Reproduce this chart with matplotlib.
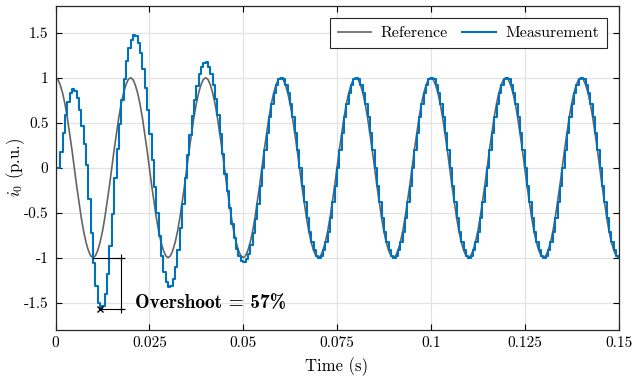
import numpy as np
import matplotlib
matplotlib.use('Agg')
import matplotlib.pyplot as plt
from matplotlib.ticker import FixedLocator, FixedFormatter

plt.rcParams['font.family'] = 'cmr10'
plt.rcParams['mathtext.fontset'] = 'cm'
plt.rcParams['axes.formatter.use_mathtext'] = True

# sampling rate of the current controller (Hz)
fs = 1600

# reference current, one row per half period of 50 Hz (p.u.)
i_ref = np.array([
    1.0, 0.98, 0.92, 0.83, 0.71, 0.56, 0.38, 0.2, 0.0, -0.2, -0.38, -0.56, -0.71, -0.83, -0.92, -0.98,
    -1.0, -0.98, -0.92, -0.83, -0.71, -0.56, -0.38, -0.2, 0.0, 0.2, 0.38, 0.56, 0.71, 0.83, 0.92, 0.98,
    1.0, 0.98, 0.92, 0.83, 0.71, 0.56, 0.38, 0.2, 0.0, -0.2, -0.38, -0.56, -0.71, -0.83, -0.92, -0.98,
    -1.0, -0.98, -0.92, -0.83, -0.71, -0.56, -0.38, -0.2, 0.0, 0.2, 0.38, 0.56, 0.71, 0.83, 0.92, 0.98,
    1.0, 0.98, 0.92, 0.83, 0.71, 0.56, 0.38, 0.2, 0.0, -0.2, -0.38, -0.56, -0.71, -0.83, -0.92, -0.98,
    -1.0, -0.98, -0.92, -0.83, -0.71, -0.56, -0.38, -0.2, 0.0, 0.2, 0.38, 0.56, 0.71, 0.83, 0.92, 0.98,
    1.0, 0.98, 0.92, 0.83, 0.71, 0.56, 0.38, 0.2, 0.0, -0.2, -0.38, -0.56, -0.71, -0.83, -0.92, -0.98,
    -1.0, -0.98, -0.92, -0.83, -0.71, -0.56, -0.38, -0.2, 0.0, 0.2, 0.38, 0.56, 0.71, 0.83, 0.92, 0.98,
    1.0, 0.98, 0.92, 0.83, 0.71, 0.56, 0.38, 0.2, 0.0, -0.2, -0.38, -0.56, -0.71, -0.83, -0.92, -0.98,
    -1.0, -0.98, -0.92, -0.83, -0.71, -0.56, -0.38, -0.2, 0.0, 0.2, 0.38, 0.56, 0.71, 0.83, 0.92, 0.98,
    1.0, 0.98, 0.92, 0.83, 0.71, 0.56, 0.38, 0.2, 0.0, -0.2, -0.38, -0.56, -0.71, -0.83, -0.92, -0.98,
    -1.0, -0.98, -0.92, -0.83, -0.71, -0.56, -0.38, -0.2, 0.0, 0.2, 0.38, 0.56, 0.71, 0.83, 0.92, 0.98,
    1.0, 0.98, 0.92, 0.83, 0.71, 0.56, 0.38, 0.2, 0.0, -0.2, -0.38, -0.56, -0.71, -0.83, -0.92, -0.98,
    -1.0, -0.98, -0.92, -0.83, -0.71, -0.56, -0.38, -0.2, 0.0, 0.2, 0.38, 0.56, 0.71, 0.83, 0.92, 0.98,
    1.0, 0.98, 0.92, 0.83, 0.71, 0.56, 0.38, 0.2, 0.0, -0.2, -0.38, -0.56, -0.71, -0.83, -0.92, -0.98,
    -1.0,
])

# measured current during start-up (first 88 samples), afterwards it tracks the reference
i_start = np.array([
    0.0, 0.0, 0.17, 0.38, 0.58, 0.73, 0.83, 0.87, 0.85, 0.77, 0.64, 0.46, 0.26, 0.03,
    -0.35, -0.73, -1.06, -1.32, -1.50, -1.57, -1.54, -1.40, -1.18, -0.87, -0.51, -0.11,
    0.21, 0.49, 0.75, 0.98, 1.18, 1.33, 1.42, 1.47, 1.46, 1.39, 1.27, 1.10, 0.88, 0.64, 0.37, 0.08,
    -0.21, -0.50, -0.76, -0.98, -1.16, -1.27, -1.33, -1.31, -1.24, -1.10, -0.91, -0.67, -0.40, -0.11,
    0.14, 0.36, 0.57, 0.75, 0.91, 1.04, 1.12, 1.16, 1.17, 1.12, 1.04, 0.92, 0.76, 0.58, 0.37, 0.15,
    -0.07, -0.26, -0.45, -0.63, -0.78, -0.90, -0.98, -1.04, -1.05, -1.02, -0.96, -0.86, -0.73, -0.57, -0.40, -0.20,
])
i_meas = np.concatenate([i_start, i_ref[len(i_start):]])
t = np.arange(len(i_ref)) / fs

xticks = [0, 0.025, 0.05, 0.075, 0.1, 0.125, 0.15]
xlabels = ['0', '0.025', '0.05', '0.075', '0.1', '0.125', '0.15']
yticks = [-1.5, -1, -0.5, 0, 0.5, 1, 1.5]
ylabels = ['-1.5', '-1', '-0.5', '0', '0.5', '1', '1.5']

fig = plt.figure(figsize=(6.33, 3.82), dpi=100)
ax = fig.add_axes([0.0877, 0.1372, 0.8894, 0.8479])

ax.plot(t, i_ref, color='#646464', lw=1.2, label='Reference')
ax.plot(t, i_meas, color='#0072BD', lw=1.5, drawstyle='steps-post', label='Measurement')

# overshoot marker
k_min = np.argmin(i_meas)
t_min, v_min = t[k_min], i_meas[k_min]
t_ref_min = t[np.argmin(i_ref)]
overshoot = (abs(v_min) - 1) * 100
ax.plot([t_ref_min, 0.0183], [-1, -1], color='k', lw=0.8)
ax.plot([t_min, 0.0183], [v_min, v_min], color='k', lw=0.8)
ax.plot([0.0174, 0.0174], [-1, v_min], color='k', lw=0.8, marker='+', ms=6, mew=0.8)
ax.plot(t_min, v_min, 'kx', ms=5, mew=1)
ax.text(0.0212, -1.5, 'Overshoot = %d%%' % round(overshoot), family='cmb10',
        fontsize=14, va='center', ha='left')

ax.set_xlim(0, 0.15)
ax.set_ylim(-1.8, 1.8)
ax.xaxis.set_major_locator(FixedLocator(xticks))
ax.xaxis.set_major_formatter(FixedFormatter(xlabels))
ax.yaxis.set_major_locator(FixedLocator(yticks))
ax.yaxis.set_major_formatter(FixedFormatter(ylabels))
ax.tick_params(direction='in', top=True, right=True, length=4, width=0.8, labelsize=11, pad=5)
ax.grid(True, color='#e3e3e3', lw=0.9)
ax.set_axisbelow(True)
for s in ax.spines.values():
    s.set_linewidth(0.9)
    s.set_color('#262626')

ax.set_xlabel('Time (s)', fontsize=12, labelpad=5)
ax.set_ylabel(r'$i_0$ (p.u.)', fontsize=12, labelpad=-2)

leg = ax.legend(ncol=2, loc='upper right', bbox_to_anchor=(0.98, 0.962), borderaxespad=0,
                fancybox=False, framealpha=1, edgecolor='#262626', fontsize=11.5,
                handlelength=2.1, handletextpad=0.6, columnspacing=0.9, borderpad=0.5)
leg.get_frame().set_linewidth(0.8)

fig.savefig('out.png', dpi=100)
